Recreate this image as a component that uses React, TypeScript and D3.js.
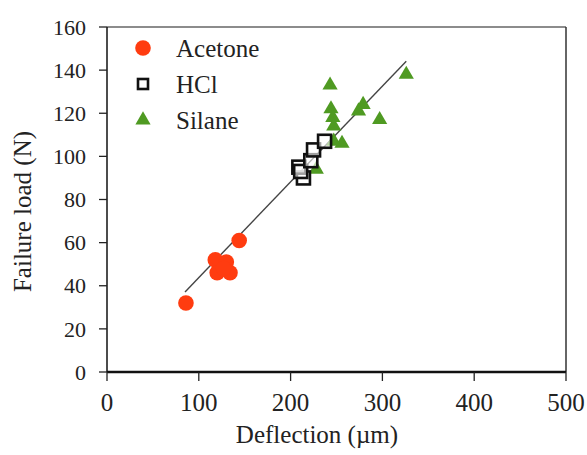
import React from "react";
import * as d3 from "d3";

const acetoneX = [86, 144, 118, 130, 120, 134, 127];
const acetoneY = [32, 61, 52, 51, 46, 46, 48];
const hclX = [214, 209, 211, 222, 225, 237];
const hclY = [90, 95, 93, 98, 103, 107];
const silaneX = [243, 326, 244, 246, 247, 279, 274, 297, 256, 247, 228];
const silaneY = [133, 138, 122, 118, 114, 124, 121, 117, 106, 107, 94];
const fitX = [85, 326];
const fitSlope = 0.444;
const fitIntercept = -0.6;
const xTicks = [0, 100, 200, 300, 400, 500];
const yTicks = [0, 20, 40, 60, 80, 100, 120, 140, 160];
const legendLabels = ["Acetone", "HCl", "Silane"];

const RED = "#ff3c10";
const GREEN = "#4f9a22";
const FONT = '"Liberation Serif", "Times New Roman", serif';

export default function App() {
  const W = 587, H = 455;
  const m = { l: 107, r: 566, t: 27, b: 372 };
  const x = d3.scaleLinear().domain([0, 500]).range([m.l, m.r]);
  const y = d3.scaleLinear().domain([0, 160]).range([m.b, m.t]);
  const tri = d3.symbol().type(d3.symbolTriangle).size(100)() as string;
  const line = d3.line<number>().x((v) => x(v)).y((v) => y(fitSlope * v + fitIntercept));
  const ts = { fontFamily: FONT };

  return (
    <svg width={W} height={H} style={{ position: "absolute", left: 0, top: 0, background: "#fff" }}>
      {/* frame */}
      <line x1={m.l} x2={m.r} y1={m.t} y2={m.t} stroke="#666" strokeWidth={1.3} />
      <line x1={m.r} x2={m.r} y1={m.t} y2={m.b} stroke="#333" strokeWidth={1.5} />
      {/* y axis */}
      <line x1={m.l} x2={m.l} y1={m.t} y2={m.b} stroke="#111" strokeWidth={1.5} />
      {yTicks.map((t) => (
        <g key={"y" + t}>
          <line x1={m.l - 8} x2={m.l} y1={y(t)} y2={y(t)} stroke="#222" strokeWidth={1.3} />
          <text x={m.l - 21} y={y(t)} dy="0.35em" textAnchor="end" fontSize={22} fill="#222" style={ts}>{t}</text>
        </g>
      ))}
      {/* x axis */}
      <line x1={m.l} x2={m.r} y1={m.b} y2={m.b} stroke="#111" strokeWidth={2.5} />
      {xTicks.map((t) => (
        <g key={"x" + t}>
          <line x1={x(t)} x2={x(t)} y1={m.b} y2={m.b + 9} stroke="#222" strokeWidth={1.3} />
          <text x={x(t)} y={m.b + 39} textAnchor="middle" fontSize={25} fill="#222" style={ts}>{t}</text>
        </g>
      ))}
      <text x={317} y={443} textAnchor="middle" fontSize={25} fill="#222" style={ts}>Deflection (µm)</text>
      <text transform={`translate(31,${(m.t + m.b) / 2 + 12}) rotate(-90)`} textAnchor="middle" fontSize={25} fill="#222" style={ts}>Failure load (N)</text>

      {/* fit line */}
      <path d={line(fitX) as string} stroke="#444" strokeWidth={1.4} fill="none" />

      {/* data */}
      {silaneX.map((v, i) => (
        <path key={"s" + i} d={tri} transform={`translate(${x(v)},${y(silaneY[i])})`} fill={GREEN} />
      ))}
      {acetoneX.map((v, i) => (
        <circle key={"a" + i} cx={x(v)} cy={y(acetoneY[i])} r={7.8} fill={RED} />
      ))}
      {hclX.map((v, i) => (
        <rect key={"h" + i} x={x(v) - 6.5} y={y(hclY[i]) - 6.5} width={13} height={13} fill="#fff" fillOpacity={0.6} stroke="#111" strokeWidth={2.6} />
      ))}

      {/* legend */}
      {legendLabels.map((lab, i) => {
        const cy = 48 + i * 36;
        return (
          <g key={lab}>
            {i === 0 && <circle cx={143} cy={cy} r={7.8} fill={RED} />}
            {i === 1 && <rect x={138} y={cy - 5} width={10} height={10} fill="#fff" stroke="#111" strokeWidth={2.6} />}
            {i === 2 && <path d={tri} transform={`translate(143,${cy})`} fill={GREEN} />}
            <text x={176} y={cy} dy="0.35em" fontSize={25} fill="#222" style={ts}>{lab}</text>
          </g>
        );
      })}
    </svg>
  );
}
